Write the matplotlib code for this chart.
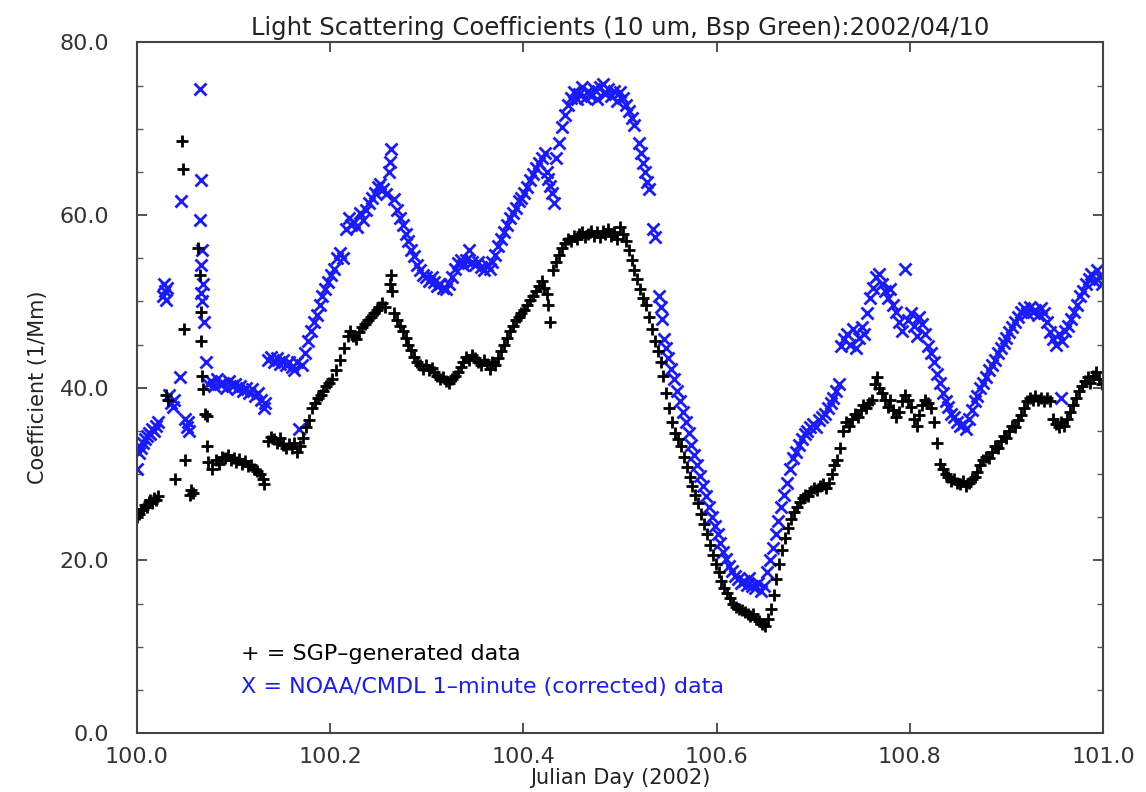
import numpy as np
import matplotlib
matplotlib.use("Agg")
import matplotlib.pyplot as plt
from matplotlib.ticker import MultipleLocator, FormatStrFormatter

title = "Light Scattering Coefficients (10 um, Bsp Green):2002/04/10"
xlabel = "Julian Day (2002)"
ylabel = "Coefficient (1/Mm)"
legend_sgp = "+ = SGP\u2013generated data"
legend_noaa = "X = NOAA/CMDL 1\u2013minute (corrected) data"

x_ticks = [100.0, 100.2, 100.4, 100.6, 100.8, 101.0]
y_ticks = [0.0, 20.0, 40.0, 60.0, 80.0]

# SGP-generated data (black +): (julian day, coefficient)
sgp_points = [
    (100.000,25.0),(100.002,25.4),(100.004,25.8),(100.006,26.0),(100.008,26.4),(100.010,26.2),
    (100.012,26.8),(100.014,27.0),(100.016,26.6),(100.018,27.2),(100.020,27.0),(100.022,27.4),
    (100.030,39.2),(100.032,38.6),(100.039,29.4),(100.047,68.6),(100.048,65.3),(100.049,46.8),
    (100.050,31.6),(100.055,27.6),(100.056,28.2),(100.058,27.8),(100.063,56.2),(100.065,53.0),
    (100.066,48.8),(100.066,45.4),(100.067,41.4),(100.068,39.8),(100.070,37.0),(100.072,36.7),
    (100.073,33.2),(100.074,31.4),
    (100.078,30.6),(100.082,31.6),(100.085,31.2),(100.088,32.0),(100.091,31.8),(100.094,32.2),
    (100.097,31.6),(100.100,31.9),(100.103,31.4),(100.106,31.7),(100.109,31.2),(100.112,31.5),
    (100.115,30.9),(100.118,31.0),(100.121,30.6),(100.124,30.3),(100.127,30.0),(100.130,29.4),
    (100.132,28.8),
    (100.136,33.8),(100.139,34.3),(100.142,34.0),(100.145,33.6),(100.148,34.2),(100.151,33.4),
    (100.154,33.0),(100.157,33.5),(100.160,33.0),(100.163,33.6),(100.166,32.6),(100.169,33.2),
    (100.172,34.2),(100.175,35.5),(100.178,36.2),
    (100.181,37.6),(100.184,38.2),(100.187,38.8),(100.190,39.2),(100.193,39.6),(100.196,40.2),
    (100.199,40.6),(100.202,41.0),(100.206,42.0),(100.210,43.2),(100.214,44.6),(100.218,46.0),
    (100.221,46.6),(100.224,46.0),(100.227,45.6),(100.230,46.4),(100.233,47.0),(100.236,47.4),
    (100.239,47.8),(100.242,48.2),(100.245,48.6),(100.248,49.0),(100.251,49.4),(100.254,49.8),
    (100.257,49.4),(100.262,52.0),(100.263,53.0),(100.264,51.2),(100.266,48.6),(100.269,47.8),
    (100.272,47.2),(100.275,46.6),(100.278,45.8),(100.281,45.0),(100.284,44.4),(100.287,43.6),
    (100.290,43.0),(100.293,42.6),(100.296,42.2),(100.299,42.6),(100.302,42.0),(100.305,42.3),
    (100.308,41.8),(100.311,41.4),(100.314,41.0),(100.317,41.2),(100.320,40.8),(100.323,40.6),
    (100.326,41.0),(100.329,41.4),(100.332,41.8),(100.335,42.4),(100.338,43.0),(100.341,43.6),
    (100.344,43.2),(100.347,43.8),(100.350,43.4),(100.353,43.0),(100.356,42.6),(100.359,43.2),
    (100.362,42.8),(100.365,42.2),(100.368,43.0),(100.371,42.6),(100.374,43.4),(100.377,44.2),
    (100.380,45.0),(100.383,45.8),(100.386,46.6),(100.389,47.2),(100.392,47.8),(100.395,48.2),
    (100.398,48.6),(100.401,49.0),(100.404,49.6),(100.407,50.2),(100.410,50.6),(100.413,51.2),
    (100.416,51.8),(100.419,52.4),(100.421,51.6),(100.424,50.8),(100.426,49.6),(100.428,47.6),
    (100.431,53.6),(100.434,54.6),(100.437,55.4),(100.440,56.2),(100.443,56.8),(100.446,57.2),
    (100.449,57.0),(100.452,57.6),(100.455,57.2),(100.458,57.8),(100.461,58.0),(100.464,57.4),
    (100.467,57.8),(100.470,58.2),(100.473,57.6),(100.476,58.0),(100.479,57.4),(100.482,58.2),
    (100.485,57.8),(100.488,58.4),(100.491,57.6),(100.494,58.0),(100.497,57.2),(100.500,58.6),
    (100.503,57.8),(100.506,57.0),(100.509,56.0),(100.512,54.8),(100.515,53.6),(100.518,52.6),
    (100.521,51.4),(100.524,50.4),(100.527,49.6),(100.530,48.2),(100.533,46.8),(100.536,45.4),
    (100.539,44.2),(100.542,43.0),(100.545,41.4),(100.548,39.4),(100.551,37.6),(100.554,36.0),
    (100.557,34.8),(100.560,34.0),(100.563,33.2),(100.566,32.0),(100.569,30.8),(100.572,29.6),
    (100.575,28.6),(100.578,27.6),(100.581,26.6),(100.584,25.4),(100.587,24.2),(100.590,23.0),
    (100.593,21.8),(100.596,20.6),(100.599,19.6),(100.602,18.6),(100.605,17.6),(100.608,16.8),
    (100.611,16.2),(100.614,15.6),(100.617,15.0),(100.620,14.6),(100.623,14.4),(100.626,14.2),
    (100.629,14.0),(100.632,13.8),(100.635,13.6),(100.638,13.8),(100.641,13.2),(100.644,13.0),
    (100.647,12.6),(100.650,12.4),(100.653,13.2),(100.656,14.4),(100.659,16.0),(100.662,17.8),
    (100.665,19.6),(100.668,21.2),(100.671,22.6),(100.674,23.8),(100.677,24.8),(100.680,25.6),
    (100.683,26.2),(100.686,26.8),(100.689,27.2),(100.692,27.6),(100.695,27.4),(100.698,28.0),
    (100.701,28.4),(100.704,28.2),(100.707,28.6),(100.710,28.8),(100.713,28.4),(100.716,29.0),
    (100.719,30.0),(100.722,31.0),(100.725,31.6),(100.728,33.0),(100.731,35.0),(100.734,36.0),
    (100.737,35.6),(100.740,36.4),(100.743,37.0),(100.746,36.6),(100.749,37.4),(100.752,38.0),
    (100.755,37.6),(100.758,38.2),(100.761,38.6),(100.764,40.4),(100.766,41.2),(100.768,40.0),
    (100.771,39.4),(100.774,38.6),(100.777,37.8),(100.780,38.6),(100.783,37.4),(100.786,36.6),
    (100.789,37.2),(100.792,38.4),(100.795,39.2),(100.798,38.6),(100.801,37.8),(100.804,36.4),
    (100.807,35.6),(100.810,36.8),(100.813,38.0),(100.816,38.6),(100.819,38.2),(100.822,37.6),
    (100.825,36.0),(100.828,33.6),(100.831,31.2),(100.834,30.6),(100.837,30.0),(100.840,29.6),
    (100.843,29.2),(100.846,29.4),(100.849,29.0),(100.852,28.8),(100.855,29.2),(100.858,28.6),
    (100.861,29.0),(100.864,29.4),(100.867,29.6),(100.870,30.2),(100.873,31.0),(100.876,31.6),
    (100.879,32.0),(100.882,31.8),(100.885,32.6),(100.888,33.2),(100.891,33.0),(100.894,33.8),
    (100.897,34.4),(100.900,34.2),(100.903,35.0),(100.906,35.6),(100.909,35.4),(100.912,36.2),
    (100.915,36.8),(100.918,37.6),(100.921,38.4),(100.924,38.8),(100.927,38.6),(100.930,39.0),
    (100.933,38.6),(100.936,38.8),(100.939,38.4),(100.942,38.8),(100.945,38.4),(100.948,36.4),
    (100.951,35.8),(100.954,35.4),(100.957,36.0),(100.960,35.6),(100.963,36.4),(100.966,37.2),
    (100.969,38.0),(100.972,38.8),(100.975,39.6),(100.978,40.2),(100.981,40.8),(100.984,41.2),
    (100.987,40.6),(100.990,41.4),(100.993,41.8),(100.996,41.0),(100.999,40.4),
]

# NOAA/CMDL 1-minute corrected data (blue x): (julian day, coefficient)
noaa_points = [
    (100.000,30.6),(100.002,32.4),(100.004,33.0),(100.006,33.6),(100.008,34.0),(100.010,34.4),
    (100.012,34.8),(100.014,34.6),(100.016,35.2),(100.018,35.0),(100.020,35.6),(100.022,36.0),
    (100.027,50.6),(100.028,52.0),(100.029,51.2),(100.030,50.2),(100.031,51.6),
    (100.033,39.2),(100.035,38.2),(100.037,37.8),(100.038,38.6),
    (100.045,41.2),(100.046,61.6),(100.050,36.4),(100.052,35.4),(100.054,35.0),(100.053,36.0),
    (100.065,74.6),(100.066,64.0),(100.065,59.4),(100.067,56.0),(100.066,54.2),(100.068,52.0),
    (100.066,51.0),(100.067,50.0),(100.069,47.6),(100.071,43.0),
    (100.074,40.4),(100.077,40.8),(100.080,40.2),(100.083,41.0),(100.086,40.4),(100.089,40.6),
    (100.092,40.0),(100.095,40.8),(100.098,40.2),(100.101,40.4),(100.104,39.8),(100.107,40.2),
    (100.110,39.6),(100.113,40.0),(100.116,39.4),(100.119,39.8),(100.122,39.0),(100.125,39.4),
    (100.128,38.6),(100.131,37.6),(100.133,38.2),
    (100.136,43.2),(100.139,43.6),(100.142,43.0),(100.145,43.4),(100.148,42.8),(100.151,43.2),
    (100.154,42.6),(100.157,43.0),(100.160,42.4),(100.163,42.0),(100.166,43.0),(100.168,35.2),
    (100.171,42.6),(100.174,44.0),(100.177,45.4),(100.180,46.6),(100.183,47.6),(100.186,48.4),
    (100.189,49.6),(100.192,50.6),(100.195,51.4),(100.198,52.2),(100.201,53.0),(100.204,53.8),
    (100.207,55.0),(100.210,55.6),(100.213,55.0),(100.216,58.4),(100.219,59.6),(100.222,58.8),
    (100.225,59.2),(100.228,58.6),(100.231,60.2),(100.234,59.4),(100.237,60.6),(100.240,61.4),
    (100.243,62.0),(100.246,62.6),(100.249,63.2),(100.252,63.6),(100.255,63.0),(100.258,62.4),
    (100.261,65.0),(100.262,66.2),(100.263,67.6),
    (100.266,61.8),(100.269,60.6),(100.272,59.6),(100.275,58.8),(100.278,57.8),(100.281,57.0),
    (100.284,56.0),(100.287,55.2),(100.290,54.2),(100.293,53.6),(100.296,53.0),(100.299,52.8),
    (100.302,52.4),(100.305,52.8),(100.308,52.2),(100.311,51.8),(100.314,52.0),(100.317,51.6),
    (100.320,51.4),(100.323,52.0),(100.326,52.8),(100.329,53.8),(100.332,54.4),(100.335,54.8),
    (100.338,54.2),(100.341,54.8),(100.344,56.0),(100.347,54.6),(100.350,54.2),(100.353,54.6),
    (100.356,54.0),(100.359,53.6),(100.362,54.2),(100.365,53.8),(100.368,54.6),(100.371,55.4),
    (100.374,56.4),(100.377,57.2),(100.380,58.0),(100.383,58.8),(100.386,59.6),(100.389,60.2),
    (100.392,60.8),(100.395,61.6),(100.398,62.0),(100.401,62.6),(100.404,63.2),(100.407,64.0),
    (100.410,64.8),(100.413,65.4),(100.416,66.0),(100.419,66.6),(100.422,67.2),(100.424,65.0),
    (100.426,64.2),(100.428,63.4),(100.430,62.6),(100.432,61.4),(100.434,66.6),(100.437,68.4),
    (100.440,70.2),(100.443,71.6),(100.446,72.8),(100.449,73.6),(100.452,74.2),(100.455,73.4),
    (100.458,74.0),(100.461,74.8),(100.464,73.6),(100.467,74.4),(100.470,73.8),(100.473,74.6),
    (100.476,73.4),(100.479,74.8),(100.482,75.2),(100.485,74.0),(100.488,74.6),(100.491,73.8),
    (100.494,74.4),(100.497,73.2),(100.500,74.2),(100.503,73.6),(100.506,72.8),(100.509,72.0),
    (100.512,71.2),(100.515,70.4),
    (100.520,68.4),(100.522,67.2),(100.524,66.0),(100.526,65.0),(100.528,63.8),(100.530,63.0),
    (100.534,58.4),(100.536,57.4),(100.540,50.6),(100.542,49.4),(100.544,48.0),(100.546,45.6),
    (100.548,44.6),(100.550,43.4),(100.553,42.2),(100.556,41.0),(100.559,39.6),(100.562,38.4),
    (100.565,37.2),(100.568,36.0),(100.571,34.8),(100.574,33.4),(100.577,32.2),(100.580,31.0),
    (100.583,29.8),(100.586,28.6),(100.589,27.4),(100.592,26.2),(100.595,25.0),(100.598,24.0),
    (100.601,23.0),(100.604,22.0),(100.607,21.0),(100.610,20.2),(100.613,19.4),(100.616,18.8),
    (100.619,18.2),(100.622,17.8),(100.625,17.4),(100.628,17.6),(100.631,17.2),(100.634,18.0),
    (100.637,17.0),(100.640,16.8),(100.643,17.4),(100.646,16.4),(100.649,17.0),(100.652,18.6),
    (100.655,20.0),(100.658,21.4),(100.661,23.0),(100.664,24.6),(100.667,26.2),(100.670,27.6),
    (100.673,29.0),(100.676,30.6),(100.679,31.8),(100.682,32.6),(100.685,33.4),(100.688,34.0),
    (100.691,34.6),(100.694,35.0),(100.697,35.4),(100.700,35.8),(100.703,35.4),(100.706,36.2),
    (100.709,36.6),(100.712,37.0),(100.715,37.6),(100.718,38.2),(100.721,38.8),(100.724,39.6),
    (100.727,40.4),(100.729,44.8),(100.732,45.6),(100.735,46.2),(100.738,45.0),(100.741,46.8),
    (100.744,44.6),(100.747,45.8),(100.750,47.0),(100.753,46.2),(100.756,48.6),(100.759,50.4),
    (100.762,51.6),(100.765,52.8),(100.768,53.2),(100.771,52.0),(100.774,51.2),(100.777,50.4),
    (100.780,51.4),(100.783,49.6),(100.786,48.8),(100.789,47.6),(100.792,46.6),(100.795,53.8),
    (100.798,47.8),(100.801,48.6),(100.804,47.2),(100.807,46.0),(100.810,48.2),(100.813,47.4),
    (100.816,46.2),(100.819,44.8),(100.822,44.0),(100.825,43.0),(100.828,41.6),(100.831,40.6),
    (100.834,39.4),(100.837,38.4),(100.840,37.8),(100.843,37.0),(100.846,36.6),(100.849,36.0),
    (100.852,35.6),(100.855,35.8),(100.858,35.2),(100.861,36.4),(100.864,37.4),(100.867,38.4),
    (100.870,39.0),(100.873,40.0),(100.876,40.6),(100.879,41.2),(100.882,42.0),(100.885,42.6),
    (100.888,43.2),(100.891,44.0),(100.894,44.6),(100.897,45.2),(100.900,45.8),(100.903,46.4),
    (100.906,47.0),(100.909,47.6),(100.912,48.2),(100.915,48.8),(100.918,49.2),(100.921,48.6),
    (100.924,49.4),(100.927,48.8),(100.930,49.0),(100.933,48.4),(100.936,49.2),(100.939,48.6),
    (100.942,47.6),(100.945,46.4),(100.948,45.6),(100.951,45.0),(100.954,46.2),(100.956,38.8),
    (100.958,45.4),(100.961,46.6),(100.964,47.2),(100.967,48.0),(100.970,48.8),(100.973,49.6),
    (100.976,50.6),(100.979,51.2),(100.982,52.0),(100.985,52.6),(100.988,53.2),(100.991,52.4),
    (100.994,53.6),(100.997,52.8),(100.999,52.0),
]

sgp = np.array(sgp_points)
noaa = np.array(noaa_points)

BLUE = "#1a1aff"

fig = plt.figure(figsize=(11.46, 7.92), dpi=100)
ax = fig.add_axes([0.1195, 0.0745, 0.843, 0.872])

ax.plot(noaa[:, 0], noaa[:, 1], linestyle="none", marker="x", color=BLUE,
        markersize=8.5, markeredgewidth=2.0)
ax.plot(sgp[:, 0], sgp[:, 1], linestyle="none", marker="+", color="black",
        markersize=8.5, markeredgewidth=2.0)

ax.set_xlim(100.0, 101.0)
ax.set_ylim(0.0, 80.0)
ax.set_xticks(x_ticks)
ax.set_yticks(y_ticks)
ax.xaxis.set_major_formatter(FormatStrFormatter("%.1f"))
ax.yaxis.set_major_formatter(FormatStrFormatter("%.1f"))
ax.yaxis.set_minor_locator(MultipleLocator(5))
ax.tick_params(axis="both", which="major", direction="in", length=7, width=1.2,
               labelsize=16, colors="#333333", top=True, right=True)
ax.tick_params(axis="x", which="major", pad=10)
ax.tick_params(axis="y", which="major", pad=20)
ax.tick_params(axis="y", which="minor", direction="in", length=4, width=1.0,
               right=True, colors="#555555")
for sp in ax.spines.values():
    sp.set_color("#444444")
    sp.set_linewidth(1.5)

ax.set_title(title, fontsize=17.5, color="#222222", pad=5)
ax.set_xlabel(xlabel, fontsize=15, color="#222222", labelpad=1)
ax.set_ylabel(ylabel, fontsize=15, color="#222222", labelpad=8)

ax.text(100.108, 9.1, legend_sgp, fontsize=16, color="black", va="center")
ax.text(100.108, 5.3, legend_noaa, fontsize=16, color=BLUE, va="center")

fig.savefig("out.png", dpi=100)
